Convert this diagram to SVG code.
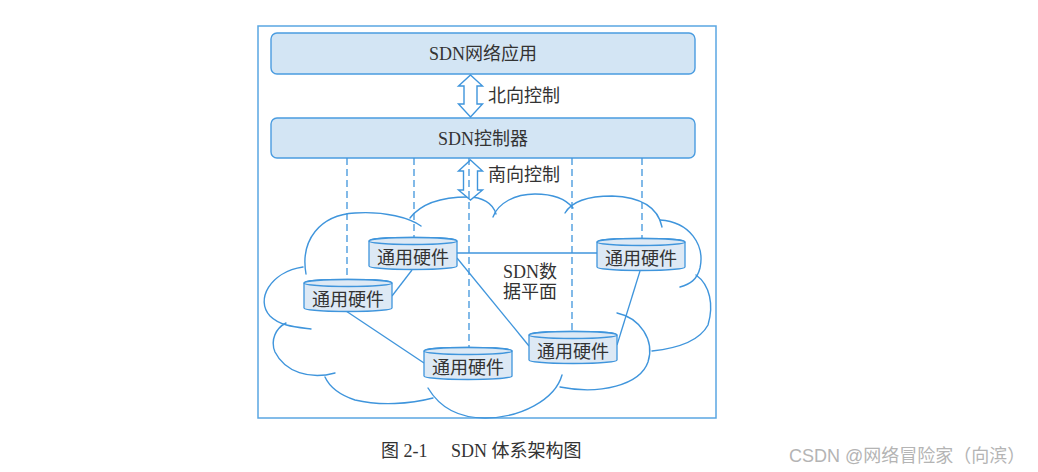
<svg xmlns="http://www.w3.org/2000/svg" width="1038" height="472" viewBox="0 0 1038 472">
<defs>
<style>
.frame{fill:none;stroke:#5aa6e2;stroke-width:1.5}
.box{fill:#d3e5f4;stroke:#4a9ce0;stroke-width:1.4}
.t{font-family:"Liberation Serif","Noto Sans CJK SC",serif;font-size:18px;fill:#333}
.tm{text-anchor:middle}
.arrow{fill:#fff;stroke:#3f95dc;stroke-width:1.4;stroke-linejoin:miter}
.dash{fill:none;stroke:#3f95dc;stroke-width:1.3;stroke-dasharray:7 4}
.edge{fill:none;stroke:#3f95dc;stroke-width:1.3}
.cloud{fill:none;stroke:#3f95dc;stroke-width:1.4;stroke-linecap:round}
.cyl{fill:#dde9f5;stroke:#3f95dc;stroke-width:1.3}
.wm{font-family:"Liberation Sans","Noto Sans CJK SC",sans-serif;font-size:18px;fill:#b4b4b4}
</style>
</defs>
<rect class="frame" x="258" y="26" width="458" height="392"/>

<g id="cloud">
<path class="cloud" d="M303 267 C270 272 255 300 270 316 C280 326 295 327 311 329"/>
<path class="cloud" d="M306 274 C300 240 320 215 355 213 C385 211 410 218 421 226"/>
<path class="cloud" d="M410 218 C420 205 440 197 468 197 C482 197 493 203 496 214"/>
<path class="cloud" d="M493 217 C498 203 515 194 535 194 C552 194 565 198 573 208"/>
<path class="cloud" d="M565 213 C572 201 590 196 612 196 C640 197 658 207 662 227"/>
<path class="cloud" d="M660 220 C690 222 705 245 700 268 C697 280 690 284 680 287"/>
<path class="cloud" d="M696 275 C710 285 714 305 708 325 C700 340 680 348 652 351"/>
<path class="cloud" d="M617 313 C640 318 655 340 648 362 C640 385 600 395 560 387"/>
<path class="cloud" d="M562 375 C555 400 520 418 485 418 C460 418 440 408 428 388"/>
<path class="cloud" d="M433 398 C410 404 380 406 355 400 C340 395 330 388 325 377"/>
<path class="cloud" d="M335 373 C310 380 285 372 275 352 C270 340 276 328 286 323"/>
</g>

<g id="app">
<rect class="box" x="271" y="33" width="424" height="41" rx="6"/>
<text class="t tm" x="483" y="60">SDN网络应用</text>
</g>

<g id="controller">
<rect class="box" x="271" y="118" width="424" height="40" rx="6"/>
<text class="t tm" x="483" y="145">SDN控制器</text>
</g>

<g id="connectors">
<path class="arrow" d="M470.5 75 L482.5 86 L477 86 L477 104 L482.5 104 L470.5 117 L458.5 104 L464 104 L464 86 L458.5 86 Z"/>
<path class="arrow" d="M470.5 160 L482.5 171 L477.5 171 L477.5 190 L482.5 190 L470.5 200 L458.5 190 L463.5 190 L463.5 171 L458.5 171 Z"/>
<line class="dash" x1="347" y1="158" x2="347" y2="280"/>
<line class="dash" x1="414" y1="158" x2="414" y2="238"/>
<line class="dash" x1="469" y1="158" x2="469" y2="348"/>
<line class="dash" x1="572" y1="158" x2="572" y2="332"/>
<line class="dash" x1="642" y1="158" x2="642" y2="239"/>
<line class="edge" x1="457" y1="253" x2="597" y2="253"/>
<line class="edge" x1="412" y1="270" x2="392" y2="296"/>
<line class="edge" x1="457" y1="258" x2="529" y2="346"/>
<line class="edge" x1="346" y1="311" x2="424" y2="363"/>
<line class="edge" x1="640" y1="271" x2="617" y2="345"/>
</g>

<text class="t" x="488" y="102">北向控制</text>
<text class="t" x="488" y="181">南向控制</text>
<g id="dataplane">
<text class="t" x="503" y="278">SDN数</text>
<text class="t" x="503" y="298">据平面</text>
</g>

<g id="hwA">
<path class="cyl" d="M369 241 V266 A44 3.5 0 0 0 457 266 V241 A44 3.5 0 0 0 369 241 Z"/>
<ellipse class="cyl" cx="413" cy="241" rx="44" ry="3.5"/>
<text class="t tm" x="413" y="264">通用硬件</text>
</g>
<g id="hwB">
<path class="cyl" d="M304 283 V308 A44 3.5 0 0 0 392 308 V283 A44 3.5 0 0 0 304 283 Z"/>
<ellipse class="cyl" cx="348" cy="283" rx="44" ry="3.5"/>
<text class="t tm" x="348" y="306">通用硬件</text>
</g>
<g id="hwC">
<path class="cyl" d="M597 242 V267 A44 3.5 0 0 0 685 267 V242 A44 3.5 0 0 0 597 242 Z"/>
<ellipse class="cyl" cx="641" cy="242" rx="44" ry="3.5"/>
<text class="t tm" x="641" y="265">通用硬件</text>
</g>
<g id="hwD">
<path class="cyl" d="M529 335 V360 A44 3.5 0 0 0 617 360 V335 A44 3.5 0 0 0 529 335 Z"/>
<ellipse class="cyl" cx="573" cy="335" rx="44" ry="3.5"/>
<text class="t tm" x="573" y="358">通用硬件</text>
</g>
<g id="hwE">
<path class="cyl" d="M424 351 V376 A44 3.5 0 0 0 512 376 V351 A44 3.5 0 0 0 424 351 Z"/>
<ellipse class="cyl" cx="468" cy="351" rx="44" ry="3.5"/>
<text class="t tm" x="468" y="374">通用硬件</text>
</g>

<text class="t" x="381" y="457">图 2-1</text>
<text class="t" x="451" y="457">SDN 体系架构图</text>
<text class="wm" x="789" y="462">CSDN @网络冒险家（向滨）</text>
</svg>
